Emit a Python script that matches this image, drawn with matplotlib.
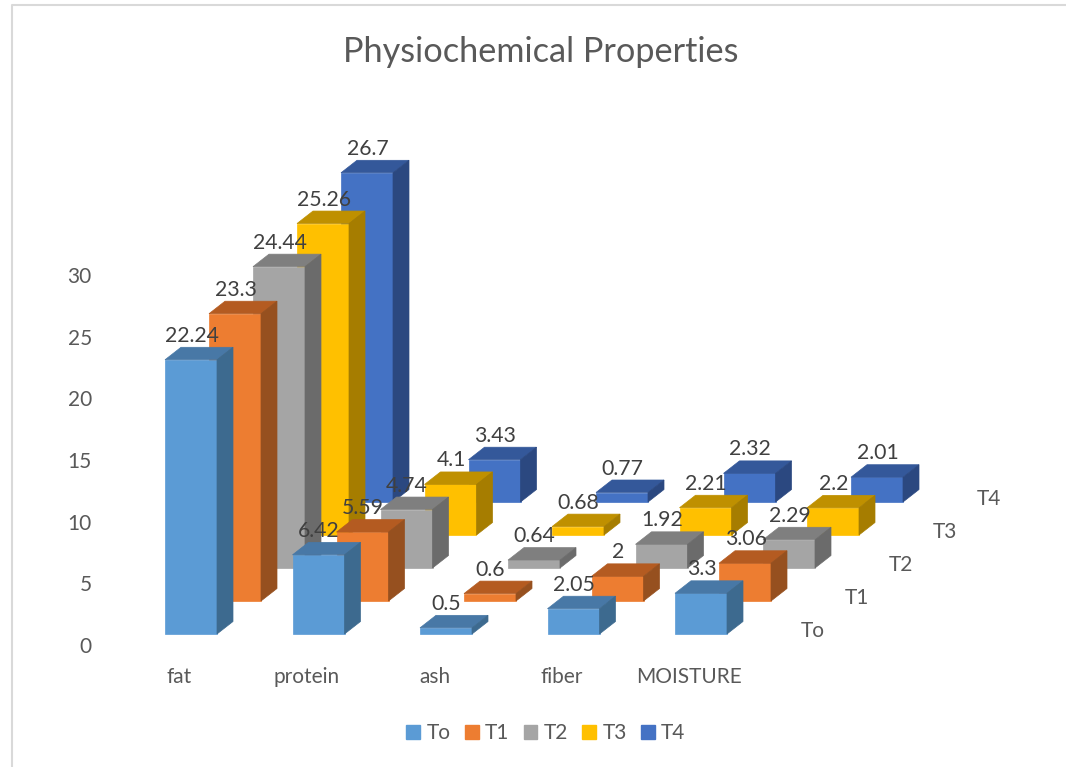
import matplotlib
matplotlib.use("Agg")
import matplotlib.pyplot as plt
from matplotlib.patches import Patch

plt.rcParams["font.family"] = ["Lato", "DejaVu Sans"]

categories = ["fat", "protein", "ash", "fiber", "MOISTURE"]
series_names = ["To", "T1", "T2", "T3", "T4"]
to_values = [22.24, 6.42, 0.5, 2.05, 3.3]
t1_values = [23.3, 5.59, 0.6, 2, 3.06]
t2_values = [24.44, 4.74, 0.64, 1.92, 2.29]
t3_values = [25.26, 4.1, 0.68, 2.21, 2.2]
t4_values = [26.7, 3.43, 0.77, 2.32, 2.01]
series_values = [to_values, t1_values, t2_values, t3_values, t4_values]

front_colors = ["#5B9BD5", "#ED7D31", "#A5A5A5", "#FFC000", "#4472C4"]
top_colors = ["#4878A6", "#B45B21", "#7F7F7F", "#BF9000", "#34589A"]
side_colors = ["#3D6A8F", "#96501F", "#6B6B6B", "#A67D00", "#2B4880"]

W, H = 1066, 767
AX_LEFT, AX_BOTTOM = 96, 645
PX_X = 127.5   # pixels per category
PX_Y = 12.33   # pixels per value unit

# oblique projection: offsets expressed in axis units
BAR_W = 52 / PX_X
SERIES_DX = 44 / PX_X
SERIES_DY = 33 / PX_Y
FLOOR_DY = 11 / PX_Y
DEPTH_DX = 16 / PX_X
DEPTH_DY = 12.5 / PX_Y

fig = plt.figure(figsize=(W / 100, H / 100), dpi=100)
ax = fig.add_axes([AX_LEFT / W, (H - AX_BOTTOM) / H, (W - AX_LEFT) / W, AX_BOTTOM / H])
ax.set_xlim((AX_LEFT - 165) / PX_X, (W - 165) / PX_X)
ax.set_ylim(0, AX_BOTTOM / PX_Y)
ax.patch.set_visible(False)
for spine in ax.spines.values():
    spine.set_visible(False)


def draw_bar(cat, ser, value, order):
    x0 = cat + ser * SERIES_DX
    y0 = FLOOR_DY + ser * SERIES_DY
    x1 = x0 + BAR_W
    y1 = y0 + value
    ax.fill([x0, x1, x1, x0], [y0, y0, y1, y1], color=front_colors[ser],
            lw=0.5, zorder=order, clip_on=False)
    ax.fill([x0, x1, x1 + DEPTH_DX, x0 + DEPTH_DX], [y1, y1, y1 + DEPTH_DY, y1 + DEPTH_DY],
            color=top_colors[ser], lw=0.5, zorder=order, clip_on=False)
    ax.fill([x1, x1 + DEPTH_DX, x1 + DEPTH_DX, x1], [y0, y0 + DEPTH_DY, y1 + DEPTH_DY, y1],
            color=side_colors[ser], lw=0.5, zorder=order, clip_on=False)
    return x0 + BAR_W / 2, y1 + DEPTH_DY


# back row first so the nearer bars cover it
order = 1
label_spots = []
for ser in range(len(series_names) - 1, -1, -1):
    for cat, value in enumerate(series_values[ser]):
        cx, top = draw_bar(cat, ser, value, order)
        label_spots.append((cx, top, value))
        order += 1

for cx, top, value in label_spots:
    ax.text(cx + 0.5 / PX_X, top + 11.5 / PX_Y, f"{value:g}", ha="center", va="center",
            fontsize=15.3, color="#404040", zorder=100)

# series names along the depth axis
for ser, name in enumerate(series_names):
    ax.text(len(categories) - 1 + 138 / PX_X + ser * SERIES_DX,
            FLOOR_DY + 3 / PX_Y + ser * SERIES_DY, name,
            ha="center", va="center", fontsize=15, color="#595959")

ax.set_yticks(range(0, 31, 5))
ax.set_xticks([i + 14.5 / PX_X for i in range(len(categories))])
ax.set_xticklabels(categories)
ax.tick_params(axis="both", length=0, labelsize=15, labelcolor="#595959")
ax.tick_params(axis="x", pad=16)
ax.tick_params(axis="y", pad=3)

fig.text(541 / W, 1 - 52 / H, "Physiochemical Properties", ha="center", va="center",
         fontsize=24.7, color="#595959")

handles = [Patch(color=c, label=n) for c, n in zip(front_colors, series_names)]
fig.legend(handles=handles, loc="center", bbox_to_anchor=(546 / W, 1 - 733 / H), ncol=5,
           frameon=False, fontsize=15, labelcolor="#595959", handlelength=0.67,
           handleheight=0.67, handletextpad=0.3, columnspacing=0.68)

# chart frame, only top and left edges are visible
fig.add_artist(plt.Line2D([12 / W, 12 / W, 1], [0, 1 - 5 / H, 1 - 5 / H],
                          color="#D9D9D9", lw=1.5))

fig.savefig("out.png", dpi=100)
